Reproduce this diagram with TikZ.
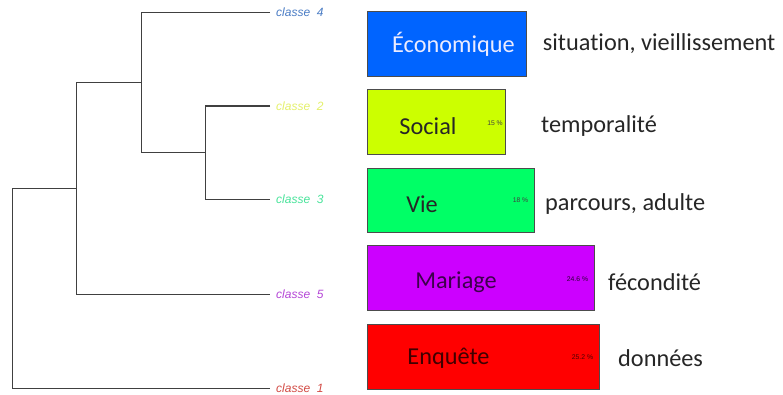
\documentclass[tikz,border=0pt]{standalone}
\usepackage{fontspec}
\setmainfont{Carlito}[Ligatures=NoCommon]
\newfontfamily\arialf{Liberation Sans}
\begin{document}
\begin{tikzpicture}[x=1pt,y=-1pt,
  tree/.style={draw=black!75, line width=1.4pt},
  leaf/.style={anchor=west, inner xsep=6pt, inner ysep=0pt, font=\arialf\itshape\fontsize{12}{12}\selectfont},
  cbox/.style={draw=black!70, line width=0.9pt, anchor=north west, inner sep=0pt},
  btext/.style={font=\fontsize{24.3}{25}\selectfont, inner sep=0pt},
  rtext/.style={font=\fontsize{24.3}{25}\selectfont, inner sep=0pt, anchor=west, text=black!85},
  pct/.style={font=\arialf\fontsize{6.8}{7}\selectfont, inner sep=0pt, text=black!75}]
\useasboundingbox (0,0) rectangle (783,394);
\definecolor{c4}{HTML}{4A7CC4}
\definecolor{c2}{HTML}{E4F06A}
\definecolor{c3}{HTML}{48E39A}
\definecolor{c5}{HTML}{B446D6}
\definecolor{c1}{HTML}{D24A44}
\definecolor{bblue}{HTML}{0064FF}
\definecolor{byel}{HTML}{CCFF00}
\definecolor{bgreen}{HTML}{00FF66}
\definecolor{bpurp}{HTML}{CC00FF}
\definecolor{bred}{HTML}{FF0000}
% dendrogram
\coordinate (e4) at (270,12.3);
\coordinate (e2) at (270,106);
\coordinate (e3) at (270,199.3);
\coordinate (e5) at (270,294.3);
\coordinate (e1) at (270,388.3);
\coordinate (n23) at (205.7,152.7);
\coordinate (n423) at (141.7,82.5);
\coordinate (n5423) at (76.7,188.3);
\coordinate (root) at (12.3,288.3);
\node[leaf, text=c4] (l4) at (e4) {classe\ \ 4};
\node[leaf, text=c2] (l2) at (e2) {classe\ \ 2};
\node[leaf, text=c3] (l3) at (e3) {classe\ \ 3};
\node[leaf, text=c5] (l5) at (e5) {classe\ \ 5};
\node[leaf, text=c1] (l1) at (e1) {classe\ \ 1};
\draw[tree] (e2) -| (n23) |- (e3);
\draw[tree] (e4) -| (n423) |- (n23);
\draw[tree] (n423) -| (n5423) |- (e5);
\draw[tree] (n5423) -| (root) |- (e1);
% boxes
\node[cbox, fill=bblue, minimum width=158.4pt, minimum height=65pt] (b4) at (367.3,11) {};
\node[cbox, fill=byel, minimum width=137.7pt, minimum height=65pt] (b2) at (367.3,89.3) {};
\node[cbox, fill=bgreen, minimum width=166.4pt, minimum height=64.3pt] (b3) at (367.3,168) {};
\node[cbox, fill=bpurp, minimum width=226.7pt, minimum height=65.3pt] (b5) at (367.3,245) {};
\node[cbox, fill=bred, minimum width=231.7pt, minimum height=65pt] (b1) at (367.3,323.7) {};
% box texts
\node[btext, text=blue!8] (t4) at (453.5,44) {Économique};
\node[btext, text=black!85] (t2) at (428,126) {Social};
\node[btext, text=black!85] (t3) at (422,204) {Vie};
\node[btext, text=black!70!bpurp] (t5) at (456,282) {Mariage};
\node[btext, text=black!75!bred] (t1) at (448.5,358) {Enquête};
% percentages
\node[pct] (p2) at (495,123.5) {15 \%};
\node[pct] (p3) at (520.5,200.5) {18 \%};
\node[pct, text=black!80!bpurp] (p5) at (577.5,279.5) {24.6 \%};
\node[pct, text=black!70!bred] (p1) at (582.5,357.5) {25.2 \%};
% right texts
\node[rtext] (r4) at (542.7,44) {situation, vieillissement};
\node[rtext] (r2) at (541,126) {temporalité};
\node[rtext] (r3) at (545,204) {parcours, adulte};
\node[rtext] (r5) at (608,282) {fécondité};
\node[rtext] (r1) at (618,358) {données};
\end{tikzpicture}
\end{document}
